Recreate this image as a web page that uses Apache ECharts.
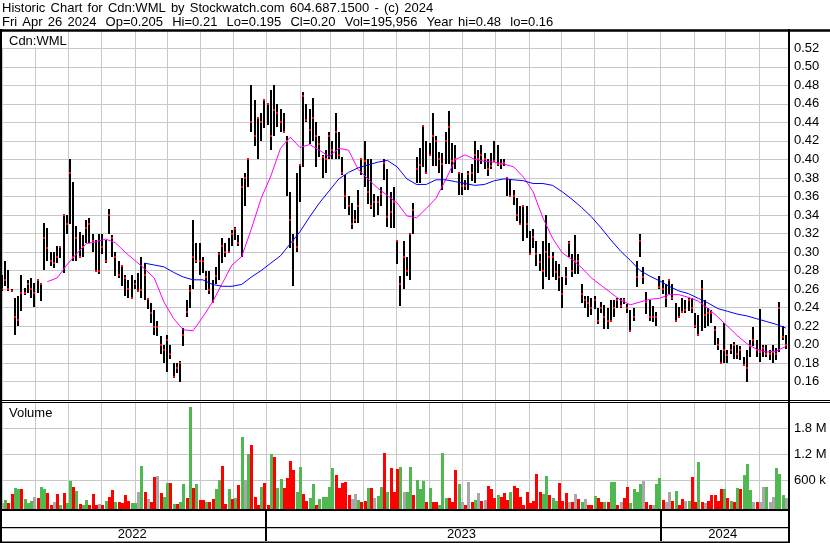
<!DOCTYPE html>
<html><head><meta charset="utf-8">
<script src="https://cdn.jsdelivr.net/npm/echarts@6/dist/echarts.min.js"></script>
<style>html,body{margin:0;padding:0;background:#fff}#c{width:830px;height:543px}</style>
</head><body><div id="c"></div>
<script>
const FONT = '"Liberation Sans", Arial, Helvetica, sans-serif';

// ---- text ----
const titleLine1 = 'Historic Chart for Cdn:WML by Stockwatch.com 604.687.1500 - (c) 2024';
const titleLine2 = 'Fri Apr 26 2024  Op=0.205  Hi=0.21  Lo=0.195  Cl=0.20  Vol=195,956  Year hi=0.48  lo=0.16';
const symbolLabel = 'Cdn:WML';
const volumeLabel = 'Volume';
const yearStarts = ['2023-01-01', '2024-01-01'];
const yearLabels = ['2022', '2023', '2024'];
const volumeTickLabels = {600000: '600 k', 1200000: '1.2 M', 1800000: '1.8 M'};
const volumeGridValues = [600000, 1200000, 1800000];

// ---- axis range ----
const axisStart = [2022, 5, 1];
const axisEnd = [2024, 4, 29];
const lastBarDate = [2024, 4, 26];
const barStepDays = 3;

// ---- price bars (one bar per 3 days) ----
const high = [
0.275,0.29,0.281,0.26,0.25,0.252,0.275,0.261,0.27,0.272,
0.267,0.27,0.267,0.331,0.326,0.30,0.30,0.306,0.306,0.34,
0.34,0.40,0.376,0.328,0.322,0.318,0.335,0.337,0.319,0.313,
0.32,0.32,0.313,0.346,0.318,0.30,0.29,0.286,0.275,0.27,
0.275,0.27,0.277,0.295,0.288,0.25,0.245,0.237,0.225,0.209,
0.20,0.21,0.20,0.18,0.18,0.182,0.218,0.248,0.264,0.335,
0.31,0.31,0.295,0.28,0.28,0.27,0.284,0.30,0.315,0.31,
0.315,0.324,0.327,0.318,0.38,0.385,0.40,0.48,0.464,0.446,
0.45,0.465,0.46,0.475,0.48,0.46,0.455,0.45,0.425,0.365,
0.32,0.385,0.395,0.473,0.46,0.455,0.466,0.44,0.425,0.405,
0.41,0.43,0.42,0.45,0.43,0.403,0.383,0.36,0.353,0.345,
0.367,0.40,0.42,0.40,0.40,0.363,0.36,0.37,0.40,0.39,
0.365,0.37,0.312,0.274,0.312,0.295,0.32,0.353,0.403,0.412,
0.436,0.42,0.418,0.45,0.425,0.408,0.407,0.43,0.452,0.418,
0.416,0.385,0.385,0.378,0.387,0.395,0.42,0.41,0.416,0.407,
0.40,0.407,0.42,0.416,0.40,0.40,0.38,0.378,0.367,0.358,
0.35,0.35,0.35,0.323,0.325,0.312,0.298,0.312,0.34,0.31,
0.30,0.29,0.287,0.273,0.284,0.312,0.298,0.318,0.298,0.266,
0.252,0.252,0.25,0.252,0.24,0.246,0.243,0.24,0.248,0.248,
0.25,0.25,0.25,0.244,0.237,0.24,0.29,0.32,0.284,0.257,
0.248,0.242,0.235,0.274,0.27,0.266,0.27,0.266,0.245,0.241,
0.25,0.248,0.25,0.25,0.234,0.232,0.27,0.248,0.24,0.237,
0.22,0.207,0.194,0.223,0.194,0.201,0.203,0.20,0.198,0.187,
0.194,0.205,0.219,0.205,0.239,0.20,0.20,0.194,0.20,0.196,
0.246,0.22,0.21];
const low = [
0.258,0.263,0.258,0.257,0.21,0.22,0.236,0.254,0.256,0.25,
0.241,0.256,0.247,0.281,0.29,0.285,0.283,0.288,0.294,0.277,
0.32,0.33,0.29,0.29,0.295,0.295,0.31,0.31,0.30,0.28,
0.276,0.298,0.288,0.32,0.295,0.274,0.272,0.263,0.252,0.25,
0.25,0.26,0.258,0.25,0.248,0.239,0.223,0.21,0.209,0.19,
0.18,0.17,0.185,0.165,0.169,0.16,0.198,0.23,0.24,0.26,
0.288,0.275,0.277,0.259,0.255,0.246,0.266,0.27,0.288,0.295,
0.30,0.306,0.313,0.306,0.295,0.35,0.37,0.43,0.414,0.40,
0.42,0.434,0.437,0.41,0.425,0.435,0.43,0.43,0.36,0.304,
0.263,0.30,0.354,0.392,0.44,0.417,0.42,0.392,0.403,0.38,
0.385,0.40,0.40,0.40,0.40,0.383,0.347,0.34,0.325,0.331,
0.331,0.383,0.37,0.352,0.346,0.338,0.34,0.35,0.378,0.327,
0.326,0.326,0.287,0.242,0.26,0.274,0.27,0.32,0.375,0.375,
0.392,0.385,0.405,0.393,0.393,0.385,0.367,0.395,0.395,0.385,
0.39,0.362,0.362,0.367,0.367,0.377,0.375,0.385,0.395,0.39,
0.382,0.39,0.398,0.393,0.39,0.393,0.36,0.36,0.351,0.333,
0.33,0.312,0.315,0.298,0.304,0.285,0.28,0.26,0.273,0.27,
0.273,0.27,0.258,0.24,0.264,0.295,0.273,0.276,0.276,0.245,
0.24,0.23,0.232,0.238,0.222,0.234,0.217,0.217,0.225,0.23,
0.24,0.24,0.244,0.234,0.215,0.226,0.262,0.295,0.266,0.233,
0.226,0.224,0.22,0.26,0.255,0.241,0.255,0.248,0.225,0.23,
0.235,0.234,0.236,0.234,0.218,0.21,0.215,0.218,0.22,0.223,
0.20,0.194,0.18,0.18,0.18,0.19,0.185,0.185,0.183,0.178,
0.16,0.187,0.198,0.187,0.181,0.187,0.187,0.183,0.18,0.183,
0.192,0.205,0.195];
const close = [
0.26,0.27,0.26,0.258,0.23,0.227,0.256,0.256,0.265,0.26,
0.256,0.27,0.265,0.315,0.304,0.29,0.288,0.295,0.305,0.34,
0.33,0.385,0.295,0.315,0.295,0.305,0.326,0.33,0.312,0.28,
0.28,0.305,0.29,0.34,0.315,0.295,0.275,0.285,0.272,0.26,
0.25,0.266,0.258,0.259,0.275,0.249,0.234,0.219,0.219,0.20,
0.194,0.205,0.19,0.165,0.175,0.18,0.21,0.235,0.258,0.295,
0.29,0.29,0.29,0.273,0.259,0.246,0.274,0.298,0.306,0.30,
0.30,0.32,0.325,0.31,0.37,0.38,0.40,0.44,0.425,0.445,
0.44,0.464,0.46,0.425,0.453,0.45,0.44,0.43,0.42,0.335,
0.311,0.305,0.394,0.468,0.443,0.432,0.445,0.425,0.417,0.403,
0.40,0.425,0.41,0.43,0.405,0.385,0.36,0.35,0.33,0.335,
0.35,0.40,0.398,0.365,0.35,0.354,0.354,0.363,0.396,0.338,
0.343,0.354,0.312,0.265,0.295,0.28,0.32,0.345,0.39,0.394,
0.436,0.385,0.405,0.425,0.42,0.40,0.395,0.42,0.435,0.398,
0.40,0.385,0.371,0.371,0.384,0.385,0.405,0.40,0.405,0.40,
0.39,0.393,0.398,0.395,0.395,0.396,0.38,0.36,0.36,0.34,
0.33,0.35,0.33,0.298,0.316,0.298,0.289,0.28,0.30,0.295,
0.295,0.278,0.273,0.255,0.273,0.31,0.28,0.29,0.29,0.255,
0.248,0.245,0.24,0.248,0.225,0.24,0.23,0.225,0.225,0.24,
0.248,0.242,0.248,0.24,0.215,0.23,0.273,0.312,0.273,0.246,
0.23,0.23,0.23,0.262,0.26,0.25,0.27,0.25,0.225,0.23,
0.235,0.237,0.248,0.24,0.22,0.21,0.26,0.232,0.234,0.234,
0.216,0.20,0.18,0.194,0.189,0.194,0.20,0.19,0.194,0.178,
0.175,0.198,0.205,0.194,0.192,0.196,0.19,0.19,0.192,0.19,
0.24,0.208,0.20];

// ---- volume (shares) and direction of the day: 1 up, -1 down, 0 unchanged ----
const volume = [
70000,146000,70000,285000,415000,392000,392000,170000,85000,123000,
215000,200000,446000,400000,315000,31000,108000,277000,31000,300000,
70000,585000,454000,354000,54000,31000,138000,31000,285000,31000,
54000,31000,123000,223000,377000,92000,108000,85000,261000,123000,
70000,70000,323000,938000,323000,170000,108000,677000,708000,315000,
223000,546000,546000,46000,46000,108000,508000,185000,2284000,415000,
508000,138000,146000,92000,92000,161000,392000,608000,930000,46000,
392000,161000,185000,492000,1600000,600000,1200000,1415000,223000,31000,
438000,530000,31000,1200000,1138000,415000,630000,415000,646000,1046000,
838000,338000,908000,292000,123000,185000,508000,31000,161000,223000,
223000,454000,877000,723000,415000,530000,554000,261000,161000,277000,
146000,92000,123000,415000,415000,185000,246000,454000,1223000,338000,
892000,338000,861000,908000,338000,338000,908000,261000,608000,400000,
585000,108000,415000,108000,92000,31000,1223000,185000,185000,108000,
838000,508000,108000,31000,554000,108000,146000,300000,123000,146000,
469000,392000,200000,261000,223000,300000,146000,338000,461000,415000,
223000,20000,323000,70000,123000,738000,338000,292000,700000,261000,
185000,123000,530000,123000,315000,108000,108000,277000,161000,92000,
170000,20000,31000,238000,185000,92000,108000,108000,554000,554000,
31000,108000,200000,438000,70000,400000,338000,523000,585000,92000,
20000,20000,508000,646000,146000,108000,338000,123000,361000,31000,
170000,123000,123000,677000,108000,1023000,108000,70000,123000,261000,
261000,123000,400000,400000,185000,123000,92000,415000,392000,723000,
977000,377000,92000,92000,108000,454000,438000,92000,223000,885000,
746000,261000,195956];
const volDir = [
0,1,-1,-1,1,1,-1,1,1,1,
0,-1,1,1,-1,-1,0,-1,1,-1,
1,1,-1,1,-1,1,1,-1,-1,-1,
0,-1,1,-1,-1,1,-1,-1,-1,-1,
1,1,0,1,-1,0,-1,-1,0,-1,
1,1,-1,1,-1,1,1,-1,1,-1,
1,-1,-1,1,-1,-1,1,1,-1,-1,
1,-1,1,-1,1,0,1,-1,-1,-1,
1,-1,-1,1,-1,1,1,-1,-1,-1,
-1,1,1,-1,-1,1,1,-1,1,1,
1,1,1,-1,-1,-1,-1,-1,0,0,
1,-1,-1,1,-1,0,1,1,-1,1,
-1,-1,-1,1,0,1,1,-1,1,1,
1,-1,1,-1,-1,1,1,1,-1,-1,
-1,1,0,-1,0,-1,1,0,-1,0,
-1,-1,-1,1,-1,-1,-1,1,-1,-1,
-1,-1,-1,-1,-1,-1,-1,1,1,-1,
1,1,-1,-1,-1,0,-1,0,-1,1,
0,-1,-1,1,-1,-1,1,-1,1,1,
-1,0,-1,-1,1,1,1,1,0,-1,
-1,0,1,1,-1,0,0,-1,1,-1,
-1,0,1,-1,-1,1,-1,0,-1,-1,
-1,-1,-1,1,-1,1,-1,1,-1,1,
1,1,0,-1,0,0,1,0,0,1,
1,1,0];

// ---- moving averages, read every 3rd bar ----
const maStep = 3;
const maFastStart = 14;   // magenta
const maFast = [
0.268,0.272,0.286,0.298,0.309,0.311,0.314,0.31,0.30,0.291,
0.282,0.272,0.246,0.228,0.216,0.215,0.23,0.246,0.266,0.286,
0.295,0.325,0.358,0.382,0.412,0.424,0.413,0.416,0.41,0.403,
0.412,0.41,0.389,0.379,0.369,0.361,0.353,0.339,0.337,0.347,
0.358,0.378,0.40,0.405,0.40,0.398,0.397,0.395,0.392,0.381,
0.365,0.337,0.315,0.299,0.292,0.283,0.272,0.264,0.256,0.248,
0.243,0.246,0.249,0.25,0.254,0.254,0.251,0.247,0.239,0.23,
0.22,0.21,0.201,0.195,0.192,0.193,0.198];
const maSlowStart = 44;   // blue
const maSlow = [
0.288,0.286,0.284,0.278,0.273,0.27,0.27,0.265,0.263,0.263,
0.265,0.273,0.28,0.288,0.296,0.309,0.322,0.338,0.353,0.366,
0.379,0.386,0.391,0.394,0.397,0.399,0.392,0.379,0.373,0.373,
0.378,0.378,0.376,0.374,0.372,0.373,0.377,0.379,0.378,0.377,
0.374,0.374,0.372,0.365,0.357,0.348,0.338,0.326,0.313,0.301,
0.291,0.28,0.274,0.269,0.263,0.258,0.255,0.25,0.245,0.239,
0.236,0.233,0.231,0.228,0.225,0.222,0.218];

// ---- build ----
function ts(a) { return new Date(a[0], a[1] - 1, a[2]).getTime(); }
function tsStr(s) { const p = s.split('-').map(Number); return ts(p); }
const N = high.length;
const barDates = [];
for (let i = 0; i < N; i++) {
  const d = new Date(lastBarDate[0], lastBarDate[1] - 1, lastBarDate[2]);
  d.setDate(d.getDate() - barStepDays * (N - 1 - i));
  barDates.push(d.getTime());
}
const xMin = ts(axisStart), xMax = ts(axisEnd);
const ohlcData = barDates.map((t, i) => [t, high[i], low[i], close[i]]);
const volData = barDates.map((t, i) => [t, volume[i], volDir[i]]);
const maFastData = maFast.map((v, k) => [barDates[maFastStart + k * maStep], v]);
const maSlowData = maSlow.map((v, k) => [barDates[maSlowStart + k * maStep], v]);
const yearBounds = [xMin].concat(yearStarts.map(tsStr)).concat([xMax]);
const yearLabelData = yearLabels.map((y, k) => [yearBounds[k], yearBounds[k + 1], k]);
const yearDividerData = yearStarts.map(s => [tsStr(s)]);

const GRID = '#c8c8c8';
const VOL_COLORS = {'1': '#50b850', '-1': '#ff0000', '0': '#a8a8a8'};
const dayMs = 86400000;

// header text uses the wider word spacing of the original
function wideSpaces(str) {
  return str.split('  ').map(part => part.split(' ').join('{s|\u00a0}')).join('{d|\u00a0}');
}
const headerRich = {s: {width: 5.2}, d: {width: 9.2}};

function timeAxis(gridIndex, split) {
  return {
    type: 'time', gridIndex, min: xMin, max: xMax,
    splitNumber: 24, minInterval: 28 * dayMs, maxInterval: 31 * dayMs,
    axisLine: {show: false}, axisTick: {show: false}, axisLabel: {show: false},
    splitLine: {show: split, lineStyle: {color: GRID, width: 1}}
  };
}

const chart = echarts.init(document.getElementById('c'), null, {renderer: 'canvas'});
chart.setOption({
  animation: false,
  backgroundColor: '#fff',
  grid: [
    {left: 2, right: 41, top: 29.8, height: 370.4},
    {left: 2, right: 41, top: 402.3, height: 104},
    {left: 2, right: 41, top: 511, height: 30}
  ],
  xAxis: [timeAxis(0, true), timeAxis(1, true), timeAxis(2, false)],
  yAxis: [
    {type: 'value', gridIndex: 0, position: 'right', min: 0.14, max: 0.54, interval: 0.02,
     axisLine: {show: false}, axisTick: {show: false},
     axisLabel: {margin: 5, color: '#000', fontSize: 13, fontFamily: FONT,
       formatter: v => (v > 0.535 || v < 0.145) ? '' : v.toFixed(2)},
     splitLine: {show: true, lineStyle: {color: GRID, width: 1}}},
    {type: 'value', gridIndex: 1, position: 'right', min: 0, max: 2400000, interval: 600000,
     axisLine: {show: false}, axisTick: {show: false},
     axisLabel: {margin: 5, color: '#000', fontSize: 13, fontFamily: FONT,
       formatter: v => volumeTickLabels[Math.round(v)] || ''},
     splitLine: {show: false}},
    {type: 'value', gridIndex: 2, min: 0, max: 1, show: false}
  ],
  series: [
    {
      type: 'custom', name: 'price', xAxisIndex: 0, yAxisIndex: 0, z: 3, silent: true,
      encode: {x: 0, y: [1, 2, 3]},
      data: ohlcData,
      renderItem: (params, api) => {
        const t = api.value(0);
        const h = api.coord([t, api.value(1)]);
        const l = api.coord([t, api.value(2)]);
        const c = api.coord([t, api.value(3)]);
        const x = Math.round(h[0]);
        const yTop = Math.round(h[1]);
        const yBot = Math.max(yTop + 1, Math.round(l[1]));
        return {type: 'group', children: [
          {type: 'rect', shape: {x: x - 1, y: yTop, width: 2, height: yBot - yTop}, style: {fill: '#000'}},
          {type: 'rect', shape: {x: x - 1, y: Math.round(c[1]) - 1, width: 2, height: 2}, style: {fill: '#ff0000'}}
        ]};
      }
    },
    {
      type: 'line', name: 'maFast', xAxisIndex: 0, yAxisIndex: 0, z: 5, silent: true,
      data: maFastData, symbol: 'none', lineStyle: {color: '#ff00ff', width: 1}
    },
    {
      type: 'line', name: 'maSlow', xAxisIndex: 0, yAxisIndex: 0, z: 5, silent: true,
      data: maSlowData, symbol: 'none', lineStyle: {color: '#0000ff', width: 1}
    },
    {
      type: 'custom', name: 'volGrid', xAxisIndex: 1, yAxisIndex: 1, z: 1, silent: true,
      data: volumeGridValues.map(v => [xMin, v]),
      encode: {x: 0, y: 1},
      renderItem: (params, api) => {
        const cs = params.coordSys;
        const y = Math.round(api.coord([xMin, api.value(1)])[1]) + 0.5;
        return {type: 'line', shape: {x1: cs.x, y1: y, x2: cs.x + cs.width, y2: y},
                style: {stroke: GRID, lineWidth: 1}};
      }
    },
    {
      type: 'custom', name: 'volume', xAxisIndex: 1, yAxisIndex: 1, z: 3, silent: true,
      encode: {x: 0, y: 1},
      data: volData,
      renderItem: (params, api) => {
        const t = api.value(0);
        const top = api.coord([t, api.value(1)]);
        const base = api.coord([t, 0]);
        const x = Math.round(top[0]);
        const y = Math.round(top[1]);
        const yb = Math.round(base[1]) + 3;
        return {type: 'rect', shape: {x: x - 1, y: y, width: 3, height: Math.max(1, yb - y)},
                style: {fill: VOL_COLORS[String(api.value(2))]}};
      }
    },
    {
      type: 'custom', name: 'yearDividers', xAxisIndex: 2, yAxisIndex: 2, z: 3, silent: true,
      data: yearDividerData, encode: {x: 0},
      renderItem: (params, api) => {
        const t = api.value(0);
        const p1 = api.coord([t, 1]);
        const p0 = api.coord([t, 0]);
        return {type: 'rect', shape: {x: Math.round(p0[0]) - 1, y: p1[1], width: 2, height: p0[1] - p1[1]},
                style: {fill: '#000'}};
      }
    },
    {
      type: 'custom', name: 'yearLabels', xAxisIndex: 2, yAxisIndex: 2, z: 3, silent: true,
      data: yearLabelData, encode: {x: [0, 1]},
      renderItem: (params, api) => {
        const a = api.coord([api.value(0), 0])[0];
        const b = api.coord([api.value(1), 0])[0];
        const cs = params.coordSys;
        return {type: 'text', x: (a + b) / 2 - 2, y: cs.y + cs.height - 7,
                style: {text: yearLabels[api.value(2)], font: '13px ' + FONT, fill: '#000',
                        align: 'center', verticalAlign: 'middle'}};
      }
    }
  ],
  graphic: [
    {type: 'text', x: 2, y: 2.3, z: 100, silent: true,
     style: {text: wideSpaces(titleLine1), rich: headerRich, font: '13px ' + FONT, fill: '#000'}},
    {type: 'text', x: 2, y: 16.3, z: 100, silent: true,
     style: {text: wideSpaces(titleLine2), rich: headerRich, font: '13px ' + FONT, fill: '#000'}},
    {type: 'rect', z: 100, silent: true, shape: {x: 0, y: 29.3, width: 830, height: 2.5}, style: {fill: '#000'}},
    {type: 'rect', z: 100, silent: true, shape: {x: 0, y: 29, width: 2, height: 514}, style: {fill: '#000'}},
    {type: 'rect', z: 100, silent: true, shape: {x: 788, y: 29, width: 2, height: 514}, style: {fill: '#000'}},
    {type: 'rect', z: 100, silent: true, shape: {x: 0, y: 400, width: 830, height: 1}, style: {fill: '#000'}},
    {type: 'rect', z: 100, silent: true, shape: {x: 0, y: 402, width: 830, height: 1}, style: {fill: '#000'}},
    {type: 'rect', z: 100, silent: true, shape: {x: 0, y: 509, width: 790, height: 2}, style: {fill: '#000'}},
    {type: 'rect', z: 100, silent: true, shape: {x: 0, y: 527, width: 790, height: 1.3}, style: {fill: '#000'}},
    {type: 'rect', z: 100, silent: true, shape: {x: 0, y: 541.5, width: 790, height: 1.5}, style: {fill: '#000'}},
    {type: 'rect', z: 99, silent: true, shape: {x: 2, y: 32, width: 66, height: 15.5}, style: {fill: '#fff'}},
    {type: 'text', x: 9, y: 35.3, z: 100, silent: true,
     style: {text: symbolLabel, font: '13px ' + FONT, fill: '#000'}},
    {type: 'text', x: 9, y: 407.3, z: 100, silent: true,
     style: {text: volumeLabel, font: '13px ' + FONT, fill: '#000'}}
  ]
});
</script>
</body></html>
